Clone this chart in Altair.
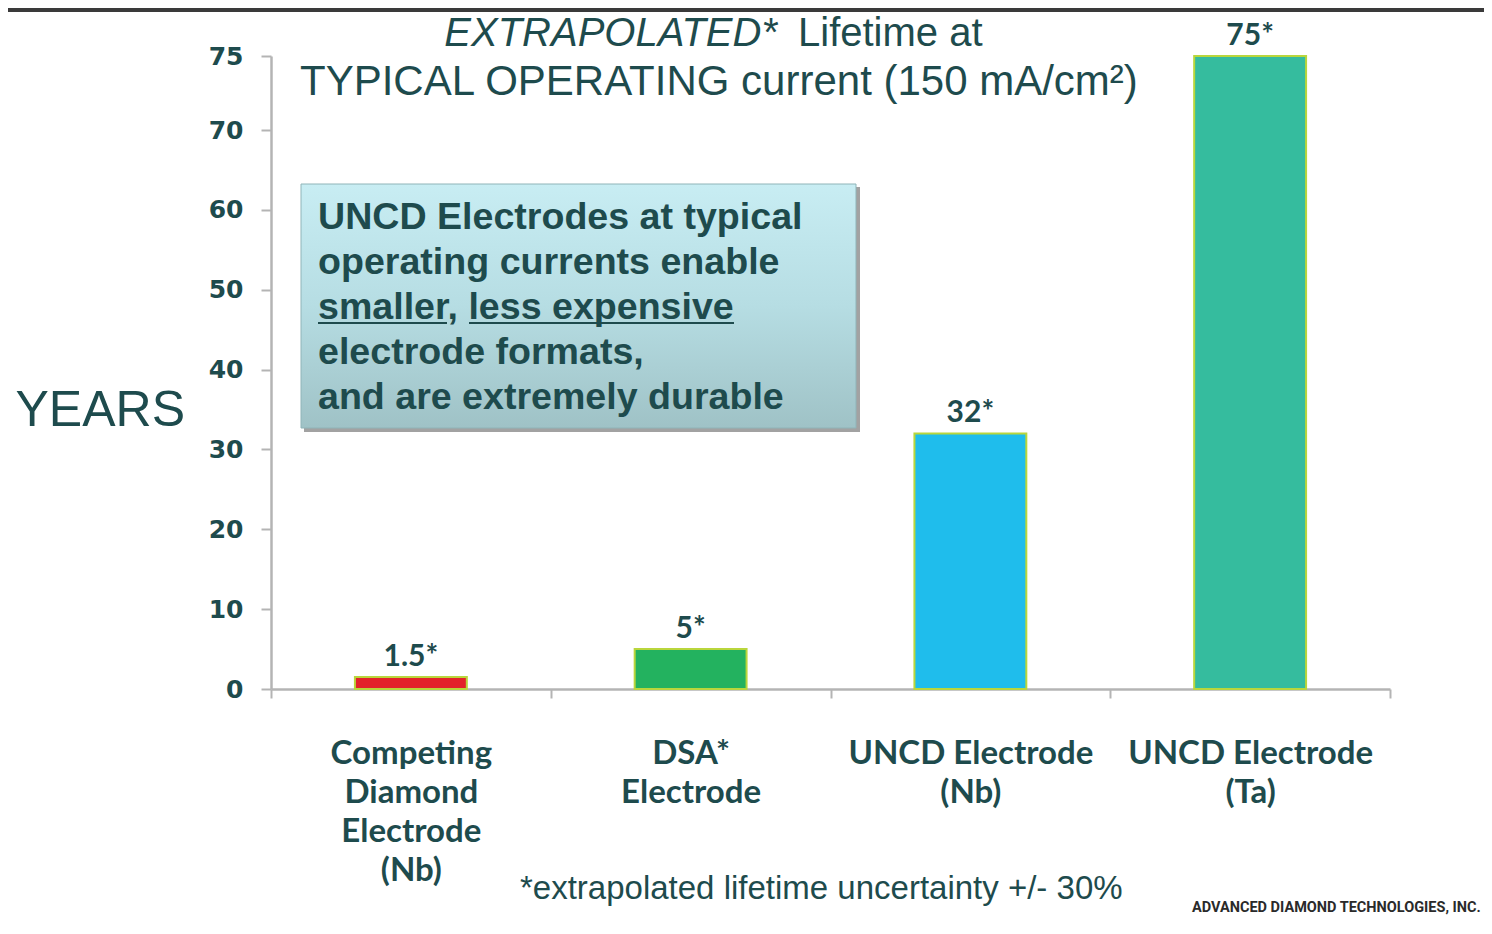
import altair as alt
import pandas as pd

# ---- data ----
categories = ["Competing|Diamond|Electrode|(Nb)", "DSA*|Electrode", "UNCD Electrode|(Nb)", "UNCD Electrode|(Ta)"]
years = [1.5, 5, 32, 75]
value_labels = ["1.5*", "5*", "32*", "75*"]
bar_colors = ["#e3222a", "#23b25f", "#1fbdec", "#35bc9e"]
y_ticks = [0, 10, 20, 30, 40, 50, 60, 70, 75]

title_italic = "EXTRAPOLATED*"
title_rest = "Lifetime at"
title_line2 = "TYPICAL OPERATING current (150 mA/cm²)"
box_lines = ["UNCD Electrodes at typical", "operating currents enable",
             "smaller, less expensive", "electrode formats,",
             "and are extremely durable"]
footnote = "*extrapolated lifetime uncertainty +/- 30%"
logo = "ADVANCED DIAMOND TECHNOLOGIES, INC."

TEXT = "#1e4b4d"
AXIS = "#b4b4b4"

df = pd.DataFrame({"cat": categories, "years": years, "label": value_labels, "color": bar_colors})

W, H = 1119, 633

x_scale = alt.Scale(paddingInner=0, paddingOuter=0)
x_enc = alt.X("cat:N", sort=categories, scale=x_scale,
              axis=alt.Axis(title=None, labelAngle=0, labelExpr="split(datum.label, '|')",
                            labelFont="Lato", labelFontWeight="bold", labelFontSize=33,
                            labelColor=TEXT, labelLineHeight=39, labelPadding=39, labelLimit=0,
                            labelBaseline="top", tickBand="extent", tickSize=9, tickWidth=2,
                            tickColor=AXIS, domainColor=AXIS, domainWidth=2.5, grid=False))
y_scale = alt.Scale(domain=[0, 70, 75], range=[H, 74, 0], nice=False, zero=False)
y_enc = alt.Y("years:Q", scale=y_scale,
              axis=alt.Axis(values=y_ticks, title="YEARS", titleAngle=0, titleFont="Liberation Sans",
                            titleFontSize=50, titleFontWeight="normal", titleColor=TEXT,
                            titleAlign="left", titleBaseline="alphabetic", titleX=-256, titleY=369,
                            labelFont="DejaVu Sans", labelFontWeight="bold", labelFontSize=25,
                            labelColor=TEXT, labelPadding=18, tickSize=10, tickWidth=2,
                            tickColor=AXIS, domainColor=AXIS, domainWidth=2.5, grid=False))

bars = alt.Chart(df).mark_bar(stroke="#b9d63c", strokeWidth=2,
                              width=alt.RelativeBandSize(0.4)).encode(
    x=x_enc, y=y_enc,
    color=alt.Color("color:N", scale=None),
)
vals = alt.Chart(df).mark_text(font="Lato", fontWeight="bold", fontSize=30, color=TEXT,
                               baseline="alphabetic", dy=-11).encode(
    x=alt.X("cat:N", sort=categories), y=alt.Y("years:Q", scale=y_scale), text="label:N")

one = pd.DataFrame({"k": [0]})
base = alt.Chart(one)

strip = base.mark_rect(color="#3a3a3a").encode(
    x=alt.value(-263), x2=alt.value(1213), y=alt.value(-48), y2=alt.value(-44))

t1a = base.mark_text(font="Liberation Sans", fontStyle="italic", fontSize=40, color=TEXT,
                     align="right", baseline="alphabetic").encode(
    x=alt.value(506), y=alt.value(-10), text=alt.value(title_italic))
t1b = base.mark_text(font="Liberation Sans", fontSize=40, color=TEXT,
                     align="left", baseline="alphabetic").encode(
    x=alt.value(527), y=alt.value(-10), text=alt.value(title_rest))
t2 = base.mark_text(font="Liberation Sans", fontSize=42, color=TEXT,
                    align="left", baseline="alphabetic").encode(
    x=alt.value(29), y=alt.value(39), text=alt.value(title_line2))

shadow = base.mark_rect(color="#555555", opacity=0.55).encode(
    x=alt.value(33), x2=alt.value(589), y=alt.value(131), y2=alt.value(376))
box = base.mark_rect(
    fill=alt.Gradient(gradient="linear", x1=0, y1=0, x2=0, y2=1,
                      stops=[alt.GradientStop(color="#c8edf3", offset=0),
                             alt.GradientStop(color="#b6dde3", offset=0.5),
                             alt.GradientStop(color="#9fc2c6", offset=1)]),
    stroke="#8fb4b8", strokeWidth=1).encode(
    x=alt.value(30), x2=alt.value(585), y=alt.value(128), y2=alt.value(372))
box_text = base.mark_text(font="Liberation Sans", fontWeight="bold", fontSize=37.6, color=TEXT,
                          align="left", baseline="alphabetic", lineHeight=45).encode(
    x=alt.value(47), y=alt.value(173), text=alt.value(box_lines))
ul1 = base.mark_rule(color=TEXT, strokeWidth=2).encode(
    x=alt.value(47), x2=alt.value(176), y=alt.value(267))
ul2 = base.mark_rule(color=TEXT, strokeWidth=2).encode(
    x=alt.value(198), x2=alt.value(463), y=alt.value(267))

foot = base.mark_text(font="Liberation Sans", fontSize=33, color=TEXT,
                      align="left", baseline="alphabetic").encode(
    x=alt.value(249), y=alt.value(843), text=alt.value(footnote))
logo_t = base.mark_text(font="Roboto", fontWeight="bold", fontSize=14.5, color="#2a2a2a",
                        align="left", baseline="alphabetic").encode(
    x=alt.value(921), y=alt.value(856), text=alt.value(logo))

chart = alt.layer(strip, bars, vals, t1a, t1b, t2, shadow, box, box_text, ul1, ul2, foot, logo_t).properties(
    width=W, height=H,
    background="white",
    autosize=alt.AutoSizeParams(type="none"),
    padding={"left": 263, "top": 48, "right": 94, "bottom": 237},
).configure_view(stroke=None)

chart.save("out.html", embed_options={"renderer": "svg", "actions": False})
